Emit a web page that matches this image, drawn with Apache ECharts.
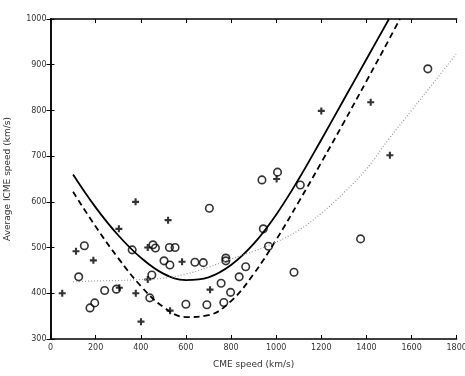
<!DOCTYPE html>
<html><head><meta charset="utf-8">
<script src="https://cdn.jsdelivr.net/npm/echarts@6/dist/echarts.min.js"></script>
<style>html,body{margin:0;padding:0;background:#fff}#c{width:465px;height:376px}</style>
</head><body><div id="c"></div>
<script>
var xTicks = [0,200,400,600,800,1000,1200,1400,1600,1800];
var yTicks = [300,400,500,600,700,800,900,1000];
var circlePts = [[125,436],[150,504],[175,368],[196,379],[240,406],[292,409],[362,495],[440,390],[449,440],[454,506],[465,499],[503,471],[527,500],[529,462],[552,500],[600,376],[640,468],[677,467],[693,375],[704,586],[756,422],[768,380],[777,477],[777,471],[798,402],[836,436],[865,458],[937,648],[943,541],[966,503],[1006,665],[1079,446],[1107,637],[1374,519],[1672,891]];
var plusPts = [[52,400],[113,492],[190,472],[305,412],[303,541],[377,600],[378,400],[401,338],[431,500],[431,430],[521,560],[530,362],[583,469],[707,408],[1002,650],[1200,799],[1419,818],[1504,702]];
var solidCurve = [[100,660],[200,588],[300,527],[400,478],[500,443],[600,429],[700,435],[800,462],[900,508],[1000,572],[1100,650],[1200,736],[1300,824],[1400,912],[1500,1000]];
var dashedCurve = [[100,622],[200,546],[300,477],[400,416],[500,370],[600,348],[700,352],[800,383],[900,442],[1000,517],[1100,600],[1200,686],[1300,774],[1400,864],[1500,955],[1548,1000]];
var dottedCurve = [[100,425],[200,427],[300,428],[400,430],[500,433],[600,442],[700,457],[800,475],[900,492],[1000,512],[1100,538],[1200,575],[1300,620],[1400,672],[1500,738],[1600,800],[1700,862],[1800,925]];

var plusPath = 'path://M3.5,0h3v3.5h3.5v3h-3.5v3.5h-3v-3.5h-3.5v-3h3.5z';
var chart = echarts.init(document.getElementById('c'));
var axCommon = {
  axisLine:{show:true,lineStyle:{color:'#000',width:1.5}},
  axisTick:{show:true,inside:true,length:4,lineStyle:{color:'#000',width:1}},
  splitLine:{show:false}
};
chart.setOption({
  animation:false,
  grid:{left:50.5,right:8.3,top:19,bottom:37,containLabel:false,outerBoundsMode:'none'},
  xAxis:[
    Object.assign({type:'value',min:0,max:1800,interval:200,position:'bottom',
      name:'CME speed (km/s)',nameLocation:'middle',nameGap:21,
      nameTextStyle:{fontFamily:'DejaVu Sans',fontSize:9,color:'#333'},
      axisLabel:{fontFamily:'DejaVu Sans',fontSize:8,color:'#333',margin:5,
        formatter:function(v){return xTicks.indexOf(v)>=0?String(v):'';}}},axCommon),
    Object.assign({type:'value',min:0,max:1800,interval:200,position:'top',axisLabel:{show:false}},axCommon)
  ],
  yAxis:[
    Object.assign({type:'value',min:300,max:1000,interval:100,position:'left',
      name:'Average ICME speed (km/s)',nameLocation:'middle',nameGap:38,
      nameTextStyle:{fontFamily:'DejaVu Sans',fontSize:9,color:'#333'},
      axisLabel:{fontFamily:'DejaVu Sans',fontSize:8,color:'#333',margin:4,
        formatter:function(v){return yTicks.indexOf(v)>=0?String(v):'';}}},axCommon),
    Object.assign({type:'value',min:300,max:1000,interval:100,position:'right',axisLabel:{show:false}},axCommon)
  ],
  series:[
    {type:'line',data:solidCurve,smooth:0.4,showSymbol:false,clip:true,
      lineStyle:{color:'#000',width:1.8,type:'solid'}},
    {type:'line',data:dashedCurve,smooth:0.4,showSymbol:false,clip:true,
      lineStyle:{color:'#000',width:1.8,type:[6,4]}},
    {type:'line',data:dottedCurve,smooth:0.4,showSymbol:false,clip:true,
      lineStyle:{color:'#999',width:1.2,type:[1,2]}},
    {type:'scatter',data:circlePts,symbol:'circle',symbolSize:7.5,
      itemStyle:{color:'rgba(255,255,255,0)',borderColor:'#000',borderWidth:1.6}},
    {type:'scatter',data:plusPts,symbol:plusPath,symbolSize:7,
      itemStyle:{color:'#000'}}
  ]
});
</script></body></html>
